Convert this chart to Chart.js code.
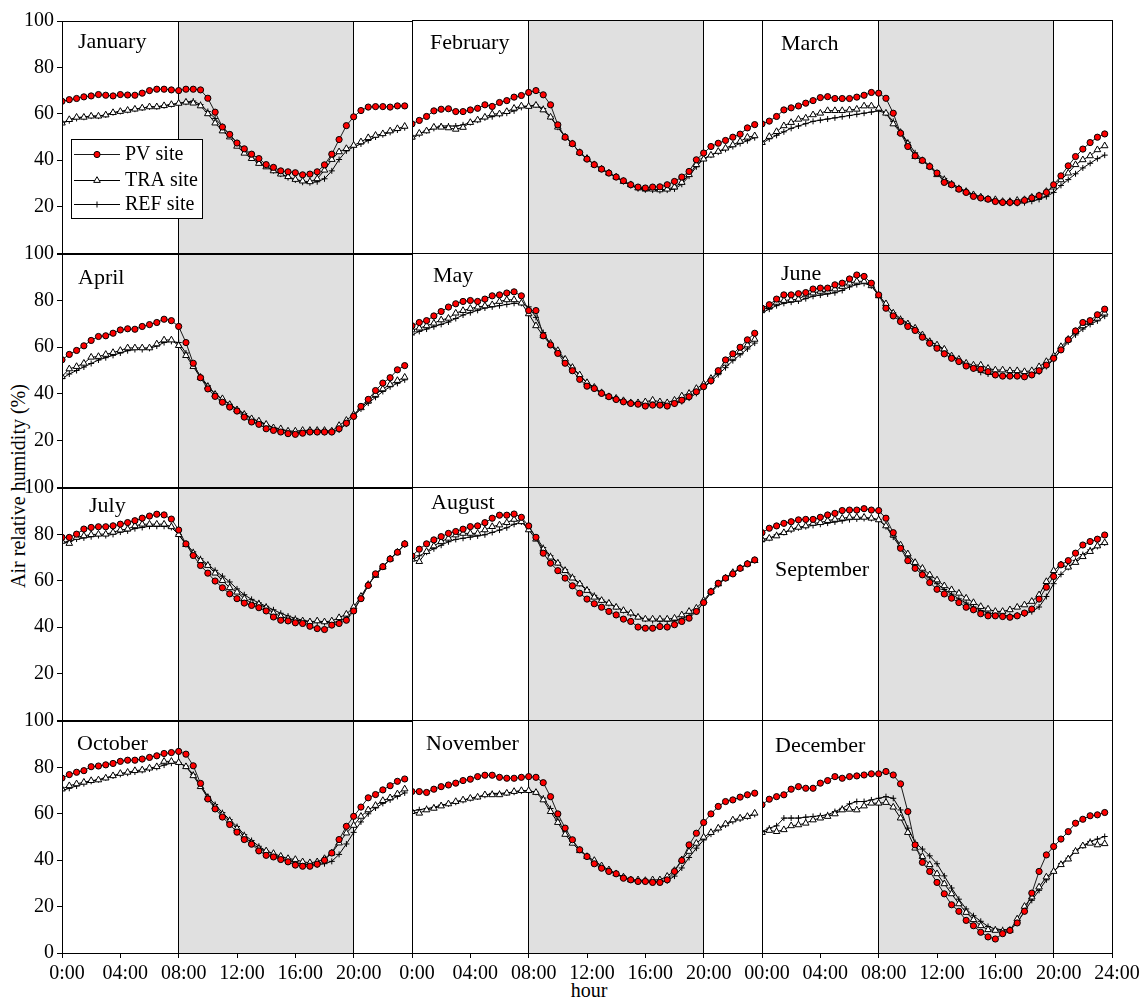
<!DOCTYPE html>
<html>
<head>
<meta charset="utf-8">
<script src="https://cdn.jsdelivr.net/npm/chart.js@4.4.0/dist/chart.umd.min.js"></script>
<style>
  html, body { margin: 0; padding: 0; background: #fff; overflow: hidden; }
  #wrap { position: relative; width: 1141px; height: 1001px; overflow: hidden; font-family: "Liberation Serif", "Times New Roman", serif; }
  #wrap canvas { position: absolute; }
  .lbl { position: absolute; color: #000; white-space: nowrap; font-family: "Liberation Serif", "Times New Roman", serif; }
</style>
</head>
<body>
<div id="wrap">
  <div class="lbl" id="ytitle" style="font-size:20px;left:18px;top:486px;transform:translate(-50%,-50%) rotate(-90deg);">Air relative humidity (%)</div>
  <div class="lbl" style="font-size:20px;left:589px;top:990px;transform:translate(-50%,-50%);">hour</div>
</div>
<script>
// half-hourly time of day (h)
const hours = [0, 0.5, 1, 1.5, 2, 2.5, 3, 3.5, 4, 4.5, 5, 5.5, 6, 6.5, 7, 7.5, 8, 8.5, 9, 9.5, 10, 10.5, 11, 11.5,
  12, 12.5, 13, 13.5, 14, 14.5, 15, 15.5, 16, 16.5, 17, 17.5, 18, 18.5, 19, 19.5, 20, 20.5, 21, 21.5, 22, 22.5, 23, 23.5];

const months = ["January", "February", "March", "April", "May", "June",
  "July", "August", "September", "October", "November", "December"];
const seriesNames = ["PV site", "TRA site", "REF site"];
const yTicks = [0, 20, 40, 60, 80, 100];
const xTicks = [0, 4, 8, 12, 16, 20, 24];
const dayStart = 8, dayEnd = 20;

const pvJan = [65.4,66.1,66.6,67.3,67.7,68.3,68.0,67.7,68.3,68.1,68.0,68.9,70.0,70.6,70.6,70.3,70.0,70.6,70.6,70.3,66.7,60.7,54.3,51.1,47.4,44.9,42.6,40.7,38.1,36.9,35.4,35.0,34.6,33.7,34.0,35.0,38.0,42.6,48.9,54.9,58.7,61.4,62.9,63.1,63.1,62.9,63.4,63.4];
const traJan = [56,57.5,58.5,58.5,59,59,59.5,60.5,61,61.5,62,62.5,63,63,63.5,64,64.5,65,64.6,63.4,60,56,52.6,50,46,43,40.7,38.6,37.1,35.4,34,32.9,31.7,31,30.7,32,35.7,40.3,43.6,45,46.4,47.9,49.7,50.7,51.4,52.6,53.6,54.6];
const refJan = [56,57,58,58.5,59,59,59.5,60.5,61,61.5,62,62.5,63,63,63.5,64,64.5,65,65.5,64,61,58,54.5,51,47.5,44.5,41.5,39,37.5,35.5,34,32.5,31.5,30.5,30.3,30.7,32,35.4,40.3,44,45.7,47,48.5,50,51,52,53,54];

const pvFeb = [55.4,56.9,58.6,61,61.7,61.9,60.7,60.7,61.4,62.1,63.6,62.9,64.6,65.4,66.9,67.6,68.9,69.7,67.9,63.6,55,49.7,46.9,43.1,40.3,37.9,36,34.3,32.6,31,29.3,28.3,27.9,28.3,28.4,29.3,30.7,32.6,35,40,42.9,45.7,47.1,48.3,49.7,51,53.7,55.1];
const traFeb = [49.7,51.4,52.4,54,54,53.7,53.1,53.9,56,57.1,58.3,59.7,59.7,60.7,62.1,63.1,62.9,63.4,61.4,58.3,54,49.7,46.9,43.1,40.6,37.9,36,34.3,32.6,30.7,29.3,27.9,27.4,27.4,27.1,27.4,28.3,30.3,33.6,37.9,40.3,42,43.6,45,46.4,47.9,49.7,50.3];
const refFeb = [49,51,52.5,53.5,54.5,54.5,54.5,55,56,57,58,58.5,59.5,60,61,62.5,63,63.5,62,58.5,54,50,47,43,40.5,38,36,34.3,32.6,30.7,29,27.6,27.1,27,26.8,27,27.5,29.5,33,37,40.5,42,43.3,44.5,45.7,47,48.2,49.5];

const pvMar = [55.4,56.6,58.6,61.4,62.3,63.1,64.3,65.4,66.7,67.1,66.3,66.3,66.3,66.9,67.7,68.9,68.6,66.4,60,51.4,45.7,41.7,39.7,37.1,34.3,30.3,29.3,27.4,26,24.3,23.6,23.1,22.1,21.7,21.7,21.7,22.6,23.6,24.6,26,29.3,33.1,37.4,41.4,44.6,47.4,49.7,51.1];
const traMar = [47.4,50,52.1,54.6,56,57.4,57.9,59.3,60,61.1,61.1,61.1,61.4,61.7,63.1,63.1,62.1,60,55.4,51.7,46.9,41.4,39.6,37.1,33.6,31.4,29.3,27.4,26.4,25,24,23.1,22.9,22.1,22.1,22.6,22.9,23.9,24.6,26.4,28.3,31.4,34.3,37.9,40,41.7,44.3,46];
const refMar = [47,49,50.5,52,53.5,54.5,55.5,56.5,57,57.5,58,58.5,59,59.5,60,60.5,61,60,56.5,52,47.5,43,40,37.5,34.5,32,30,28,26.5,25.2,24,23,22.3,21.5,21.3,21.3,21.6,22.2,23,24.2,26,29,31.5,34,36.5,38.5,40.5,42];

const pvApr = [54.6,56.9,58.6,60.6,62.9,64.6,64.9,66,67.4,67.9,67.7,68.9,69.7,70.6,72,71.4,68.9,62,53.1,46.9,42.1,38.9,36.4,34.3,32.6,30,27.9,26.9,25,24.3,23.6,22.9,22.6,23.1,23.6,23.6,23.6,23.6,25,27.4,30.3,34.6,37.6,41.4,44.6,46.9,50.3,52.1];
const traApr = [47.4,50.7,51.7,53.1,55.7,56,56.9,57.7,58.6,59.7,59.7,59.7,59.7,61.4,63.1,63.1,60.7,56.4,51.7,46.9,43.1,39.7,37.9,35.4,33.1,31.1,29.3,28.3,26.9,25.4,25,24,24,24.3,24.3,24.3,24.3,24,26.4,28.6,31.1,34,36.9,39.7,42.1,44,45.7,47.1];
const refApr = [46.5,48.5,50,51.5,53,54.5,55.5,56.5,57.5,58.5,59,59,59.5,60.5,62,62.5,62,57.5,52.5,47.5,43.5,40,37.5,35.5,33.5,31.5,29.5,28,26.8,25.5,24.5,23.8,23.5,23.5,23.5,23.5,23.5,23.5,24.5,27,30.5,33.5,36,38.5,41,43,44.5,46];

const pvMay = [68.9,70.3,71.1,73.1,75,76.9,78.3,79.3,79.7,79.3,80.3,81.7,82.1,82.9,83.4,81.7,75.4,75.4,64.6,60.7,57.1,52.9,49.7,46,43.1,42.1,40,38.6,37.4,36.4,35.7,35.4,34.6,35,35,34.6,35.7,37.1,38.6,40.7,42.9,45.4,49.7,54.3,56.9,59.7,62.9,65.7];
const traMay = [67.1,67.9,68.9,70,71.4,72.1,74.3,75.4,76.3,76.9,77.4,77.9,79.3,80,80,78.6,74,68.9,64.6,61.4,58.3,54.6,51.1,47.9,44.6,42.6,40.3,38.6,37.9,36.9,36,36,36.4,37.1,36.4,36,37.1,38.9,40,42.1,44,46.4,49.3,52.9,55.4,57.9,60.7,63.1];
const refMay = [65,66.5,67.5,68.5,69.5,70.5,72,73.5,74.5,75.5,76.5,77,77.5,78,78.5,78.5,77,72.5,66,61,57.5,54,51,47.5,44.5,42,40,38.5,37.5,36.5,35.7,35.4,35.2,35.2,35.2,35.2,35.5,36.5,38,40,42.5,45,48,51,54,56.5,59,61.5];

const pvJun = [76.4,77.9,80.3,82.1,82.1,82.6,83.1,84.6,85,85,86.4,87.1,88.9,90.6,90,87.1,82.1,76.4,73.1,70.7,68.6,66.9,64,61.4,59.3,56.9,55,53.6,51.7,50.7,50.3,49.3,47.9,47.4,47.4,47.4,47.1,47.9,49.7,52.1,55,58.6,62.9,66.7,70.3,71.1,73.6,76];
const traJun = [75.7,77.1,78.9,79.7,80,80.3,82.1,82.9,83.6,83.6,84.6,85.7,87.1,87.9,87.9,86,81.7,78.3,74.3,71.4,69.7,67.9,65,62.1,60.7,58.9,56,54.6,52.9,52.1,52.1,50.7,50,50,49.7,49.7,49.3,49.7,51.4,53.6,56,60,63.1,66.4,68.9,70.3,72.1,74.3];
const refJun = [74.5,76,77.5,78.5,79,79.5,80.5,81.5,82,82.5,83,84,85.5,86.5,87,86,82,78,74.5,72,70,67.5,65,62.5,60.5,58.5,56,54,52.5,50.5,49,48.3,47.8,47.5,47.4,47.4,47.4,47.8,49.2,51.5,54.5,58.5,62,65,67.5,69.5,71,73];

const pvJul = [78.7,78.7,80.1,82.3,83,83.3,83.3,83.7,84.4,85.1,85.9,87,87.9,88.7,88.4,86.6,81.9,75.9,70.9,66.6,63.3,59.9,57,54.4,52.3,50.4,49.4,48.4,47,44.4,43,42.7,41.9,41.6,40.4,39.4,39,40.9,41.6,43,47,52.3,58,63,66.1,69.4,72.3,75.9];
const traJul = [77,76.1,78.7,79.4,79.9,80.1,80.1,80.9,81.9,82.3,83.7,84.4,84.4,84.4,84.4,83.3,79.9,75.6,71.9,68.7,66.6,63.3,60.1,57,55.1,52.3,50.4,49.9,48.4,46.1,44.7,43.7,43,42.7,42.3,42.7,42.3,42.7,44.1,45.6,48.7,53.3,58.4,62.3,65.9,69.4,72.3,75.9];
const refJul = [76.5,77,78,78.5,79,79.5,79.5,80,81,81.5,82.5,83,83.5,83.5,83.5,83,80,76,72.5,69.5,67,64.5,62,59.5,56.5,54,52,50.5,49,47.5,46,44.8,43.8,43,42.5,42.2,42,42,42.5,44,47.5,52.5,58,62.5,66,69.5,72.5,75.5];

const pvAug = [70.4,73.3,75.6,77.3,78.7,80.1,80.9,81.9,83,83.3,84.7,86.6,87.9,87.9,88.4,87,83.3,78.4,71.6,67.3,64.1,60.9,57.6,54.4,51.9,49.9,48.4,46.6,45.1,43.3,42.3,39.9,39.4,39.4,40.1,39.9,40.9,42.3,43.7,46.6,50.4,55.1,58.7,60.9,62.7,65.1,67,68.7];
const traAug = [69,68,72.3,74.7,76.6,78,79.4,80.1,80.1,80.1,81.6,83,83.7,84.7,86.1,85.1,81.6,77.6,73.3,69.9,67.3,64.1,60.9,58.4,55.6,52.7,51.3,50.1,48.4,47,45.9,44.1,43.3,43.3,43.3,43.3,43.7,45.1,46.6,48,51.3,55.1,58.4,60.9,63.3,65.1,67,68.4];
const refAug = [68.5,70.5,72,73.5,75,76.5,77.5,78,78.5,79,79.5,80.5,81.5,82.5,84,85,82.5,78.5,74,70.5,67.5,64.5,61.5,58.5,56,53.5,51.5,50,48.5,47,45.5,44.3,43.3,42.7,42.5,42.5,42.5,43.5,44.8,46.5,50.5,54.5,58,60.8,63,65,67,68.5];

const pvSep = [80.4,82.3,83.3,84.4,85.1,85.9,86.1,86.1,87,88,88.7,89.9,90.1,90.1,90.7,90.1,89.9,86.6,80.4,73.7,68.4,65.1,62.3,59,56.1,54.1,52.3,50.4,48.4,47.3,45.6,44.7,44.7,44.4,44.1,44.7,45.9,47.6,51.9,57,61.6,66.6,68.4,71.6,75.1,76.6,77.6,79.4];
const traSep = [77.6,78,79,80.4,81.9,82.7,83.3,84.4,84.7,85.6,86.1,86.6,87,87,87,86.6,85.9,83.3,79.4,75.1,71.3,67.6,65.1,62.3,60.1,57.6,55.9,54.4,52.3,50.4,48.7,47.6,46.6,46.6,47.3,48.4,49.4,50.9,53.7,59.4,64.1,66.6,65.6,67.6,70.1,72.3,74.7,76.1];
const refSep = [76.5,78,79.5,80.5,81.5,82.5,83,83.5,84,84.5,85,85.5,86,86.3,86.5,86.5,86,83,78.5,74,70,66.5,63.5,61,58.5,56,54,52,50.2,48.5,47,46,45.2,44.8,44.8,45,45.5,46.5,48.5,53,58.5,62.5,65.5,68.5,71,73,74.5,76];

const pvOct = [75.4,76.9,77.9,78.6,80.3,80.6,81.1,81.7,82.6,83.1,83.1,83.6,84.3,85,86,86.4,86.9,85.7,80.7,73.1,66.4,62.1,58.6,55.4,52.1,48.9,46.9,44,42.1,41.4,40.3,39.3,37.9,37.4,37.4,38.3,40,43.1,48.9,54.6,58.9,62.9,66.9,68.3,70.3,72.1,74,75];
const traOct = [70.7,72.1,72.9,73.6,74.3,74.6,75.4,76.4,77.4,77.9,78.6,78.9,79.7,80.3,82.6,82.6,82.1,80.3,76.4,71.7,66.9,63.1,59.7,56.9,53.6,50.3,47.4,45,44,42.9,41.7,40.7,40.3,39.3,38.9,39.3,40.7,43.1,47.4,51.7,55,58.9,61.7,63.6,65.7,66.9,68.6,70.7];
const refOct = [70,71,72,73,74,74.7,75.5,76.3,77,77.5,78,78.7,79.3,80,81,81.8,82,80.5,77,72.5,67.5,64,60.5,57.5,54.5,51,48.5,46,44,42.5,41,40,39,38.2,38,38,38.5,39.5,42.5,47,52,56.5,60,62.5,64.5,66,67.5,69];

const pvNov = [69.3,69.3,68.9,70.3,71.4,72.1,72.9,74,74.6,75.7,76.3,76.3,75.4,75,75,75.4,75.7,75.4,73.1,67.1,59.7,53.6,48.6,44.3,41.4,38.3,36.4,35,34,32.1,31.4,30.7,30.7,30.3,30.3,31.4,35,39.7,46.4,51.4,56,59.7,62.9,65,65.7,66.9,67.9,68.6];
const traNov = [60.7,60,61.4,62.1,63.1,64,65,65.7,66.4,66.9,67.9,67.9,67.9,68.6,69.3,69.7,69.7,68.9,65.7,60.7,56,50.9,47.1,43.9,41.4,39.7,37.4,35.7,34,32.6,31.4,31.4,31.1,31.4,31.4,32.9,35.4,40,43.6,47.1,49.7,51.7,53.6,55.4,57.1,57.9,58.6,60];
const refNov = [61,61.5,62,62.5,63.5,64,64.7,65.5,66.3,67,67.7,68.5,68.5,68.7,69,69.5,69.5,69,66.5,62,57,52,48,44.5,41.5,39,37,35.3,34,32.7,31.5,31,30.7,30.5,30.5,31,33,36.5,41,45,48.5,51,53,55,56.5,57.5,58.5,59.5];

const pvDec = [63.6,66,67.1,67.9,70.3,71.4,70.7,70.7,72.9,74,75.7,75,75.7,76,76.4,76.9,76.9,77.9,76.4,72.6,60.7,46.4,38.9,35,30.3,25.4,20.7,17.9,14,11.7,8.9,6.9,6,8.3,9.7,12.9,17.9,25.7,35,42.1,45.7,48.9,52.1,55.7,57.4,58.9,59.3,60.3];
const traDec = [51.7,52.6,52.1,52.9,54.6,55,55.7,57.1,57.9,58.6,59.7,61.4,61.7,61.4,63.1,64.3,64.3,64.6,62.6,57.9,51.7,45,41.4,37.9,34,29.7,25.4,21.1,17.4,14.3,11.7,10,9.7,9.3,9.7,14.6,20,24,28.3,32.6,35,37.9,40.3,43.6,46,47.1,46.4,46.9];
const refDec = [52.1,53.6,54.6,57.9,57.9,57.9,58.3,58.6,58.9,59.3,60.7,62.1,64,65,65,65.7,66.4,67.1,66.4,61.4,53.6,47.4,44.6,41.7,38.3,33.1,27.9,23.1,18.9,16,13.6,11.4,10.3,10,10,13.1,17.9,22.6,26.9,31.4,35,38.3,40.7,44,46,47.9,48.9,50];

const pvData = [pvJan, pvFeb, pvMar, pvApr, pvMay, pvJun, pvJul, pvAug, pvSep, pvOct, pvNov, pvDec];
const traData = [traJan, traFeb, traMar, traApr, traMay, traJun, traJul, traAug, traSep, traOct, traNov, traDec];
const refData = [refJan, refFeb, refMar, refApr, refMay, refJun, refJul, refAug, refSep, refOct, refNov, refDec];

// layout of the 4x3 panel grid (page pixels)
const COL_X = [62, 412, 762];
const ROW_Y = [20, 253, 487, 720];
const PW = 350;
const PH = [233, 234, 233, 233];
const ML = 62, MR = 36, MT = 14, MB = 48;
// month label offsets inside each panel [dx, dy of baseline]
const labelPos = [[16, 27], [18, 29], [19, 30], [16, 30], [21, 29], [19, 27],
                  [27, 24], [19, 22], [13, 89], [15, 29], [14, 30], [13, 32]];
const FONT = "'Liberation Serif', 'Times New Roman', serif";

const styles = [
  { borderColor: '#1a1a1a', pointStyle: 'circle', pointRadius: 3.1, pointBackgroundColor: '#ff0000', pointBorderColor: '#000' },
  { borderColor: '#000', pointStyle: 'triangle', pointRadius: 3.8, pointBackgroundColor: '#fff', pointBorderColor: '#000' },
  { borderColor: '#000', pointStyle: 'cross', pointRadius: 3, pointBackgroundColor: '#000', pointBorderColor: '#000' }
];

const bandPlugin = {
  id: 'band',
  beforeDraw(chart) {
    const { ctx, chartArea: a, scales: { x } } = chart;
    const x0 = x.getPixelForValue(dayStart), x1 = x.getPixelForValue(dayEnd);
    ctx.save();
    ctx.fillStyle = '#e0e0e0';
    ctx.fillRect(x0, a.top, x1 - x0, a.bottom - a.top);
    ctx.restore();
  }
};

const framePlugin = {
  id: 'frame',
  afterDraw(chart, args, opts) {
    const { ctx, chartArea: a } = chart;
    ctx.save();
    ctx.strokeStyle = '#000';
    ctx.lineWidth = 1;
    ctx.strokeRect(Math.round(a.left) + 0.5, Math.round(a.top) + 0.5,
      Math.round(a.right - a.left), Math.round(a.bottom - a.top));
    if (opts.text) {
      ctx.fillStyle = '#000';
      ctx.font = '22px ' + FONT;
      ctx.textBaseline = 'alphabetic';
      ctx.fillText(opts.text, a.left + opts.dx, a.top + opts.dy);
    }
    ctx.restore();
  }
};

const legendPlugin = {
  id: 'boxLegend',
  afterDraw(chart) {
    const { ctx, chartArea: a } = chart;
    const bx = a.left + 9, by = a.top + 118, bw = 131, bh = 79;
    ctx.save();
    ctx.fillStyle = '#fff';
    ctx.fillRect(bx, by, bw, bh);
    ctx.strokeStyle = '#000';
    ctx.lineWidth = 1;
    ctx.strokeRect(bx + 0.5, by + 0.5, bw, bh);
    const rows = [a.top + 133, a.top + 159, a.top + 183];
    chart.data.datasets.forEach((ds, i) => {
      const y = rows[i];
      ctx.strokeStyle = ds.borderColor;
      ctx.lineWidth = 1;
      ctx.beginPath();
      ctx.moveTo(a.left + 12, y + 0.5);
      ctx.lineTo(a.left + 58, y + 0.5);
      ctx.stroke();
      ctx.fillStyle = ds.pointBackgroundColor;
      ctx.strokeStyle = ds.pointBorderColor;
      Chart.helpers.drawPoint(ctx, { pointStyle: ds.pointStyle, radius: ds.pointRadius, rotation: 0, borderWidth: 1 }, a.left + 35, y + 0.5);
      ctx.fillStyle = '#000';
      ctx.font = '20px ' + FONT;
      ctx.textBaseline = 'middle';
      ctx.fillText(ds.label, a.left + 63, y + 1);
    });
    ctx.restore();
  }
};

function xLabel(col, v) {
  if (v === 24) return col === 2 ? '24:00' : '';
  if (v === 0) return col === 2 ? '00:00' : '0:00';
  return String(v).padStart(2, '0') + ':00';
}

const wrap = document.getElementById('wrap');

months.forEach((month, i) => {
  const r = Math.floor(i / 3), c = i % 3;
  const w = ML + PW + MR, h = MT + PH[r] + MB;
  const cv = document.createElement('canvas');
  cv.width = w; cv.height = h;
  cv.style.left = (COL_X[c] - ML) + 'px';
  cv.style.top = (ROW_Y[r] - MT) + 'px';
  cv.style.width = w + 'px';
  cv.style.height = h + 'px';
  wrap.appendChild(cv);

  const series = [pvData[i], traData[i], refData[i]];
  const datasets = series.map((vals, k) => Object.assign({
    label: seriesNames[k],
    data: hours.map((hh, j) => ({ x: hh, y: vals[j] })),
    borderWidth: 1,
    pointBorderWidth: 1,
    tension: 0,
    fill: false
  }, styles[k]));

  const bottom = r === 3, left = c === 0;
  new Chart(cv, {
    type: 'line',
    data: { datasets },
    options: {
      responsive: false,
      animation: false,
      devicePixelRatio: 1,
      layout: { padding: { top: MT, right: MR, left: 0, bottom: 0 } },
      plugins: {
        legend: { display: false },
        tooltip: { enabled: false },
        frame: { text: month, dx: labelPos[i][0], dy: labelPos[i][1] }
      },
      scales: {
        x: {
          type: 'linear', min: 0, max: 24,
          afterFit: s => { s.height = MB; },
          afterBuildTicks: s => { s.ticks = xTicks.map(v => ({ value: v })); },
          border: { display: false },
          grid: {
            drawOnChartArea: true,
            color: ctx => (ctx.tick && (ctx.tick.value === dayStart || ctx.tick.value === dayEnd)) ? '#000' : 'rgba(0,0,0,0)',
            lineWidth: 1,
            drawTicks: bottom,
            tickLength: 5,
            tickColor: '#000'
          },
          ticks: {
            display: bottom, autoSkip: false, maxRotation: 0, minRotation: 0,
            padding: 4, labelOffset: 5, color: '#000',
            font: { family: FONT, size: 20 },
            callback: v => xLabel(c, v)
          }
        },
        y: {
          min: 0, max: 100,
          afterFit: s => { s.width = ML; },
          afterBuildTicks: s => { s.ticks = yTicks.map(v => ({ value: v })); },
          border: { display: false },
          grid: { drawOnChartArea: false, drawTicks: left, tickLength: 5, tickColor: '#000' },
          ticks: {
            display: left, padding: 3, color: '#000',
            font: { family: FONT, size: 20 },
            callback: v => (v === 0 && r < 3) ? '' : String(v)
          }
        }
      }
    },
    plugins: i === 0 ? [bandPlugin, framePlugin, legendPlugin] : [bandPlugin, framePlugin]
  });
});
</script>
</body>
</html>
